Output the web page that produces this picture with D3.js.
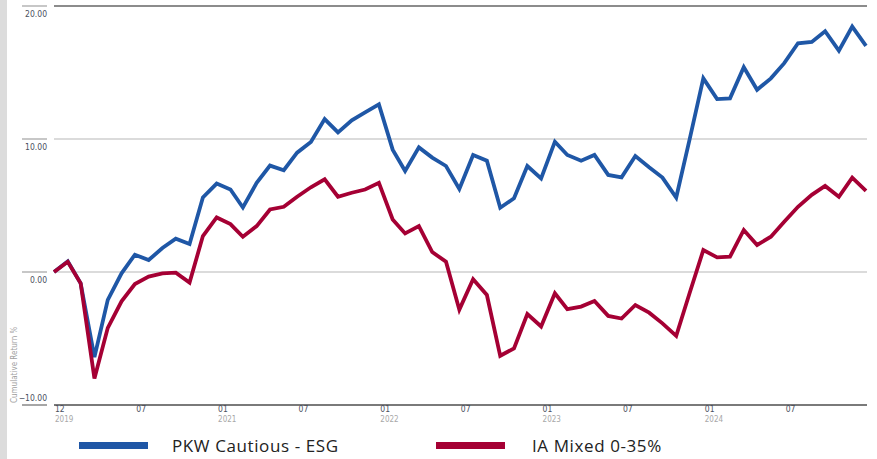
<!DOCTYPE html>
<html>
<head>
<meta charset="utf-8">
<script src="https://cdn.jsdelivr.net/npm/d3@7"></script>
<style>
  body { margin: 0; background: #fff; }
  svg { display: block; }
</style>
</head>
<body>
<div id="vis"></div>
<script>
// monthly cumulative returns, Dec 2019 .. Dec 2024 (month ends)
const pkwValues = [0, 0.8, -0.85, -6.4, -2.1, -0.1, 1.3, 0.9, 1.8, 2.5, 2.1, 5.6, 6.65,
  6.2, 4.85, 6.7, 8.0, 7.65, 8.97, 9.77, 11.5, 10.5, 11.4, 12.0, 12.6,
  9.2, 7.6, 9.37, 8.6, 7.97, 6.25, 8.8, 8.37, 4.83, 5.54, 7.97, 7.04,
  9.8, 8.8, 8.37, 8.8, 7.3, 7.12, 8.72, 7.87, 7.1, 5.6,
  9.95, 14.56, 13.0, 13.06, 15.4, 13.7, 14.56, 15.7, 17.2, 17.3, 18.1, 16.64, 18.45, 17.0];
const iaValues = [0, 0.77, -0.85, -8.0, -4.2, -2.2, -0.9, -0.35, -0.1, -0.05, -0.8, 2.7, 4.1,
  3.6, 2.65, 3.45, 4.7, 4.9, 5.66, 6.37, 6.97, 5.66, 5.96, 6.2, 6.7,
  3.95, 2.9, 3.45, 1.5, 0.77, -2.83, -0.55, -1.73, -6.3, -5.74, -3.16, -4.1,
  -1.6, -2.8, -2.6, -2.18, -3.3, -3.5, -2.48, -3.06, -3.86, -4.8,
  -1.6, 1.65, 1.1, 1.15, 3.16, 2.03, 2.65, 3.78, 4.9, 5.8, 6.47, 5.66, 7.09, 6.1];
const seriesNames = ["PKW Cautious - ESG", "IA Mixed 0-35%"];
const seriesColors = ["#1f57a6", "#a50034"];
const yTicks = [-10, 0, 10, 20];
const xTickDates = [new Date(2019, 11, 31), new Date(2020, 6, 1), new Date(2021, 0, 1),
  new Date(2021, 6, 1), new Date(2022, 0, 1), new Date(2022, 6, 1), new Date(2023, 0, 1),
  new Date(2023, 6, 1), new Date(2024, 0, 1), new Date(2024, 6, 1)];

const dates = pkwValues.map((d, i) => new Date(2019, 12 + i, 0));

const FRAME_WIDTH = 877;
const FRAME_HEIGHT = 459;
const PLOT = {left: 54, right: 866, top: 6, bottom: 405};

const svg = d3.select("#vis")
  .append("svg")
  .attr("width", FRAME_WIDTH)
  .attr("height", FRAME_HEIGHT);

// grey strip on the left edge
svg.append("rect")
  .attr("x", 0).attr("y", 0)
  .attr("width", 7).attr("height", FRAME_HEIGHT)
  .attr("fill", "#dcdcdc");

const X_SCALE = d3.scaleTime()
  .domain([dates[0], dates[dates.length - 1]])
  .range([PLOT.left, PLOT.right]);

const Y_SCALE = d3.scaleLinear()
  .domain([-10, 20])
  .range([PLOT.bottom, PLOT.top]);

const tickFont = "'Liberation Sans Narrow', 'DejaVu Sans Condensed', 'Liberation Sans', sans-serif";

// gridlines
svg.append("g")
  .selectAll("line")
  .data(yTicks)
  .enter()
  .append("line")
    .attr("x1", PLOT.left)
    .attr("x2", PLOT.right + 1)
    .attr("y1", d => Y_SCALE(d))
    .attr("y2", d => Y_SCALE(d))
    .attr("stroke", d => d === 20 ? "#8c8c8c" : (d === -10 ? "#7a7a7a" : "#cfcfcf"))
    .attr("stroke-width", d => (d === 20 || d === -10) ? 2 : 1.5);

// short tick lines and labels left of the plot
const yAxis = svg.append("g");
yAxis.selectAll("line")
  .data(yTicks)
  .enter()
  .append("line")
    .attr("x1", 22)
    .attr("x2", 47)
    .attr("y1", d => Y_SCALE(d))
    .attr("y2", d => Y_SCALE(d))
    .attr("stroke", d => d === -10 ? "#888" : "#b5b5b5")
    .attr("stroke-width", 1.5);

yAxis.selectAll("text")
  .data(yTicks)
  .enter()
  .append("text")
    .attr("x", 47)
    .attr("y", d => d === -10 ? Y_SCALE(d) - 4 : Y_SCALE(d) + 11)
    .attr("text-anchor", "end")
    .attr("font-family", tickFont)
    .attr("font-size", "8.5px")
    .attr("fill", "#4a4f5e")
    .text(d => d < 0 ? "\u2212" + d3.format(".2f")(-d) : d3.format(".2f")(d));

svg.append("text")
  .attr("transform", "translate(17,403) rotate(-90)")
  .attr("font-family", tickFont)
  .attr("font-size", "8px")
  .attr("fill", "#a0a0a0")
  .text("Cumulative Return %");

// x tick labels
const xLabels = svg.append("g")
  .selectAll("g")
  .data(xTickDates)
  .enter()
  .append("g")
    .attr("transform", d => "translate(" + (X_SCALE(d) + 1) + ",0)");

xLabels.append("text")
  .attr("y", 412)
  .attr("font-family", tickFont)
  .attr("font-size", "8.5px")
  .attr("fill", "#4a4f5e")
  .text(d => d3.timeFormat("%m")(d));

xLabels.filter((d, i) => i === 0 || d.getMonth() === 0)
  .append("text")
  .attr("y", 422)
  .attr("font-family", tickFont)
  .attr("font-size", "8px")
  .attr("fill", "#a8a8a8")
  .text(d => d3.timeFormat("%Y")(d));

// lines
const line = d3.line()
  .x((d, i) => X_SCALE(dates[i]))
  .y(d => Y_SCALE(d));

[pkwValues, iaValues].forEach((vals, k) => {
  svg.append("path")
    .datum(vals)
    .attr("d", line)
    .attr("fill", "none")
    .attr("stroke", seriesColors[k])
    .attr("stroke-width", 3.8)
    .attr("stroke-linejoin", "miter");
});

// legend
const legendX = [79, 436];
const legend = svg.append("g")
  .selectAll("g")
  .data(seriesNames)
  .enter()
  .append("g")
    .attr("transform", (d, i) => "translate(" + legendX[i] + ",0)");

legend.append("rect")
  .attr("x", 0).attr("y", 442)
  .attr("width", 69).attr("height", 7)
  .attr("fill", (d, i) => seriesColors[i]);

legend.append("text")
  .attr("x", (d, i) => i === 0 ? 93 : 96)
  .attr("y", 452)
  .attr("font-family", "'Open Sans', 'DejaVu Sans', sans-serif")
  .attr("font-size", "17px")
  .attr("letter-spacing", "0.6px")
  .attr("fill", "#222")
  .text(d => d);
</script>
</body>
</html>
